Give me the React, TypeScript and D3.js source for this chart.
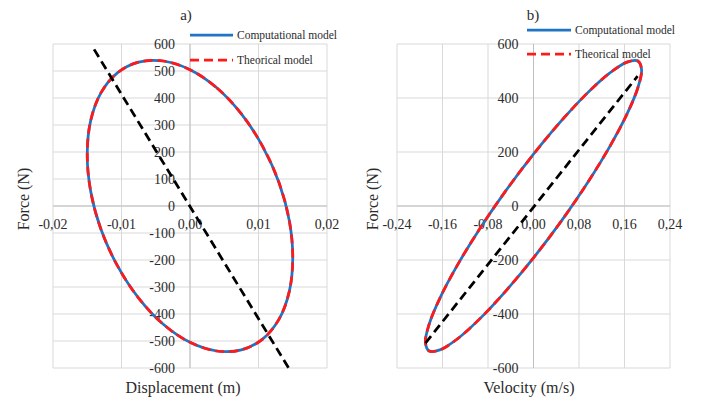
import React from 'react';
import * as d3 from 'd3';

// Hysteresis loop (one point every 15 degrees of the cycle)
const displacement = [0, 0.0039, 0.0075, 0.0106, 0.013, 0.0145, 0.015, 0.0145, 0.013, 0.0106, 0.0075, 0.0039,
  0, -0.0039, -0.0075, -0.0106, -0.013, -0.0145, -0.015, -0.0145, -0.013, -0.0106, -0.0075, -0.0039];
const velocity = [0.19, 0.1835, 0.1645, 0.1343, 0.095, 0.0492, 0, -0.0492, -0.095, -0.1343, -0.1645, -0.1835,
  -0.19, -0.1835, -0.1645, -0.1343, -0.095, -0.0492, 0, 0.0492, 0.095, 0.1343, 0.1645, 0.1835];
const computationalForce = [505, 438, 341, 221, 86, -55, -192, -316, -419, -493, -533, -537,
  -505, -438, -341, -221, -86, 55, 192, 316, 419, 493, 533, 537];
const theoricalForce = [505, 438, 341, 221, 86, -55, -192, -316, -419, -493, -533, -537,
  -505, -438, -341, -221, -86, 55, 192, 316, 419, 493, 533, 537];

// dashed reference lines
const dispLineX = [-0.014, 0.0144];
const dispLineF = [580, -600];
const velLineX = [-0.19, 0.183];
const velLineF = [-508, 481];

// axes
const dispTicks = [-0.02, -0.01, 0, 0.01, 0.02];
const velTicks = [-0.24, -0.16, -0.08, 0, 0.08, 0.16, 0.24];
const forceTicksA = [-600, -500, -400, -300, -200, -100, 0, 100, 200, 300, 400, 500, 600];
const forceTicksB = [-600, -400, -200, 0, 200, 400, 600];
const legendLabels = ['Computational model', 'Theorical model'];

const FONT = 'Liberation Serif';
const TXT = '#2b2b2b';
const BLUE = '#1f74c4';
const RED = '#ff1a1a';
const SW = 2.75;

const fmtX = (v: number) => d3.format('.2f')(v).replace('.', ',').replace('−', '-');
const fmtY = (v: number) => String(v);

type PanelProps = {
  xDomain: [number, number];
  xRange: [number, number];
  xTicks: number[];
  yTicks: number[];
  xs: number[];
  lineX: number[];
  lineF: number[];
  title: string;
  titleX: number;
  xTitle: string;
  xTitleX: number;
  yTitleX: number;
  legX1: number;
  legX2: number;
  legY: [number, number];
};

const ts = (size: number): React.CSSProperties => ({ fontFamily: FONT, fontSize: size + 'px', fill: TXT });

function Panel(p: PanelProps) {
  const x = d3.scaleLinear().domain(p.xDomain).range(p.xRange);
  const y = d3.scaleLinear().domain([-600, 600]).range([368, 44]);
  const line = d3.line<[number, number]>().x(d => x(d[0])).y(d => y(d[1])).curve(d3.curveCatmullRomClosed);
  const comp = line(p.xs.map((v, i) => [v, computationalForce[i]] as [number, number])) || '';
  const theo = line(p.xs.map((v, i) => [v, theoricalForce[i]] as [number, number])) || '';
  const x0 = x(0);
  const y0 = y(0);
  return (
    <g>
      {p.yTicks.map(t => (
        <line key={'gy' + t} x1={p.xRange[0]} x2={p.xRange[1]} y1={y(t)} y2={y(t)} stroke="#d9d9d9" strokeWidth={1} />
      ))}
      {p.xTicks.map(t => (
        <line key={'gx' + t} x1={x(t)} x2={x(t)} y1={44} y2={368} stroke="#d9d9d9" strokeWidth={1} />
      ))}
      <line x1={x0} x2={x0} y1={44} y2={368} stroke="#bfbfbf" strokeWidth={1} />
      <line x1={p.xRange[0]} x2={p.xRange[1]} y1={y0} y2={y0} stroke="#bfbfbf" strokeWidth={1} />
      {p.yTicks.map(t => (
        <text key={'ly' + t} x={x0 - 15} y={y(t) + 5} textAnchor="end" style={ts(14)}>
          {fmtY(t)}
        </text>
      ))}
      {p.xTicks.map(t => (
        <text key={'lx' + t} x={x(t)} y={y0 + 23} textAnchor="middle" style={ts(14)}>
          {fmtX(t)}
        </text>
      ))}
      <path d={comp} fill="none" stroke={BLUE} strokeWidth={SW} />
      <path d={theo} fill="none" stroke={RED} strokeWidth={SW} strokeDasharray="9,5" />
      <line x1={x(p.lineX[0])} y1={y(p.lineF[0])} x2={x(p.lineX[1])} y2={y(p.lineF[1])}
        stroke="#000" strokeWidth={SW} strokeDasharray="9,5" />
      <text x={p.titleX} y={20} textAnchor="middle" style={ts(15)}>{p.title}</text>
      <text x={p.xTitleX} y={393} textAnchor="middle" style={ts(16)}>{p.xTitle}</text>
      <text transform={`translate(${p.yTitleX},199) rotate(-90)`} textAnchor="middle" style={ts(16)}>
        Force (N)
      </text>
      <line x1={p.legX1} x2={p.legX2} y1={p.legY[0]} y2={p.legY[0]} stroke={BLUE} strokeWidth={SW} />
      <text x={p.legX2 + 4} y={p.legY[0] + 4} style={ts(11.5)}>{legendLabels[0]}</text>
      <line x1={p.legX1} x2={p.legX2} y1={p.legY[1]} y2={p.legY[1]} stroke={RED} strokeWidth={SW} strokeDasharray="9,5" />
      <text x={p.legX2 + 4} y={p.legY[1] + 4} style={ts(11.5)}>{legendLabels[1]}</text>
    </g>
  );
}

export default function App() {
  return (
    <svg width={712} height={398} style={{ position: 'absolute', left: 0, top: 0, background: '#fff' }}>
      <rect x={0} y={0} width={712} height={398} fill="#fff" />
      <Panel xDomain={[-0.02, 0.02]} xRange={[53, 327]} xTicks={dispTicks} yTicks={forceTicksA}
        xs={displacement} lineX={dispLineX} lineF={dispLineF} title="a)" titleX={186}
        xTitle="Displacement (m)" xTitleX={183} yTitleX={29} legX1={190} legX2={233} legY={[35, 60]} />
      <Panel xDomain={[-0.24, 0.24]} xRange={[397, 670]} xTicks={velTicks} yTicks={forceTicksB}
        xs={velocity} lineX={velLineX} lineF={velLineF} title="b)" titleX={533}
        xTitle="Velocity (m/s)" xTitleX={529} yTitleX={378} legX1={527} legX2={571} legY={[30, 54]} />
    </svg>
  );
}
